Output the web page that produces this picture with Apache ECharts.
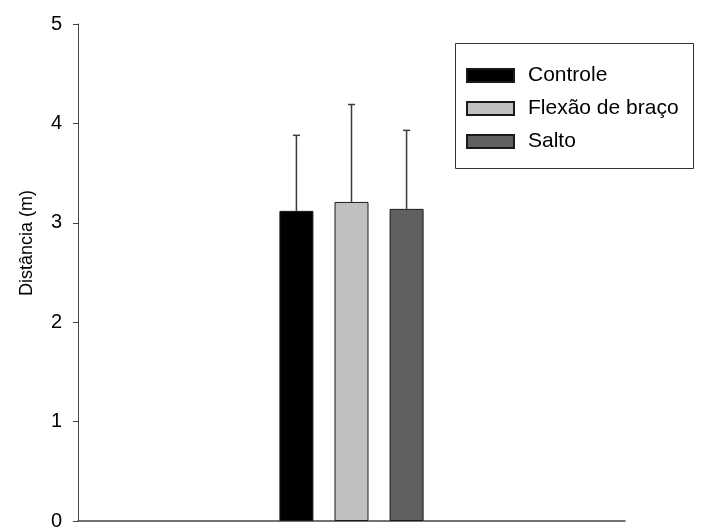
<!DOCTYPE html>
<html>
<head>
<meta charset="utf-8">
<script src="https://cdn.jsdelivr.net/npm/echarts@6/dist/echarts.min.js"></script>
<style>
html,body{margin:0;padding:0;background:#fff;}
#chart{width:704px;height:531px;}
</style>
</head>
<body>
<div id="chart"></div>
<script>
var categories = ['Grupo'];
var seriesNames = ['Controle', 'Flexão de braço', 'Salto'];
var meanValues = [3.12, 3.21, 3.14];
var upperValues = [3.88, 4.19, 3.93];
var colors = ['#000000', '#c0c0c0', '#606060'];
var yTicks = [0, 1, 2, 3, 4, 5];

var FONT = 'Liberation Sans, Arial, sans-serif';
var chart = echarts.init(document.getElementById('chart'));

var series = [];
seriesNames.forEach(function (name, i) {
  series.push({
    name: name,
    type: 'bar',
    data: [meanValues[i]],
    barWidth: 34,
    barGap: '62%',
    itemStyle: { color: colors[i], borderColor: '#1a1a1a', borderWidth: 1 },
    z: 2
  });
});
seriesNames.forEach(function (name, i) {
  series.push({
    type: 'custom',
    name: name + ' erro',
    data: [[0, meanValues[i], upperValues[i]]],
    z: 1,
    silent: true,
    renderItem: function (params, api) {
      var bw = 34, gap = 34 * 0.62;
      var offset = (i - 1) * (bw + gap);
      var base = api.coord([api.value(0), api.value(1)]);
      var top = api.coord([api.value(0), api.value(2)]);
      var x = base[0] + offset;
      var style = { stroke: '#3a3a3a', lineWidth: 1.5 };
      return {
        type: 'group',
        children: [
          { type: 'line', shape: { x1: x, y1: base[1], x2: x, y2: top[1] }, style: style },
          { type: 'line', shape: { x1: x - 3.5, y1: top[1], x2: x + 3.5, y2: top[1] }, style: style }
        ]
      };
    }
  });
});

chart.setOption({
  animation: false,
  backgroundColor: '#fff',
  grid: { left: 78, right: 79, top: 24, bottom: 5, containLabel: false },
  legend: {
    data: seriesNames,
    orient: 'vertical',
    left: 461,
    top: 60,
    itemWidth: 47,
    itemHeight: 13,
    itemGap: 12,
    icon: 'rect',
    textStyle: { fontFamily: FONT, fontSize: 21, color: '#000', padding: [0, 0, 0, 9] }
  },
  graphic: [
    { type: 'rect', shape: { x: 455.5, y: 43.5, width: 238, height: 125 },
      style: { fill: 'none', stroke: '#333', lineWidth: 1 }, z: -1 },
    { type: 'text', x: 27, y: 243, rotation: Math.PI / 2,
      style: { text: 'Distância (m)', font: '18px ' + FONT, fill: '#000', textAlign: 'center', textVerticalAlign: 'middle' } }
  ],
  xAxis: {
    type: 'category',
    data: categories,
    axisLine: { show: true, lineStyle: { color: '#444', width: 1.5 } },
    axisTick: { show: false },
    axisLabel: { show: false },
    splitLine: { show: false }
  },
  yAxis: {
    type: 'value',
    min: yTicks[0],
    max: yTicks[yTicks.length - 1],
    interval: 1,
    axisLine: { show: true, lineStyle: { color: '#444', width: 1 } },
    axisTick: { show: true, length: 5, lineStyle: { color: '#444' } },
    axisLabel: { fontFamily: FONT, fontSize: 20, color: '#000', margin: 16 },
    splitLine: { show: false }
  },
  series: series
});
</script>
</body>
</html>
